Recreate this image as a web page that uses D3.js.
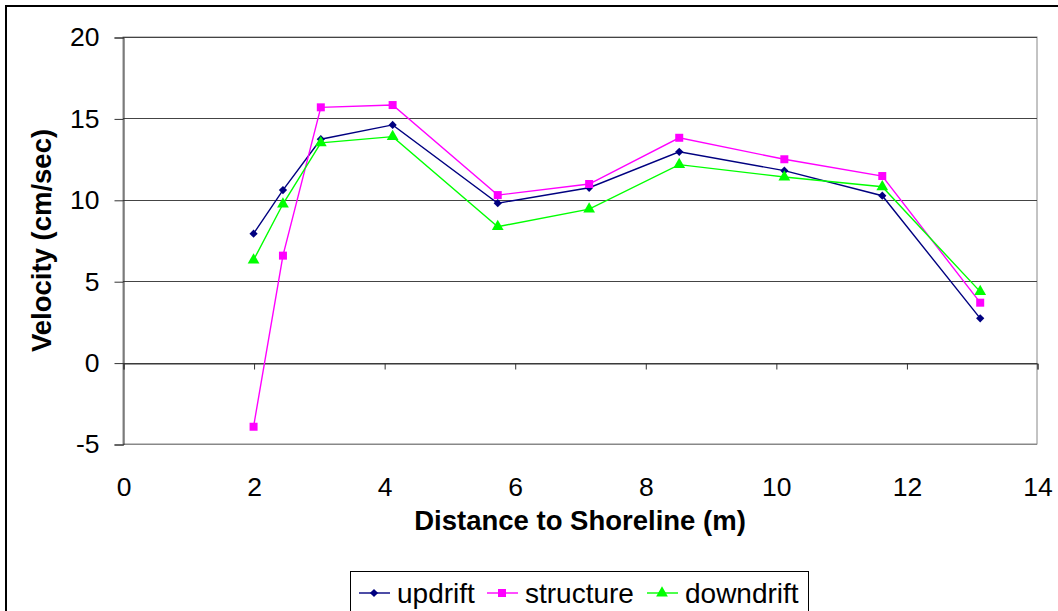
<!DOCTYPE html>
<meta charset="utf-8">
<head>
    <script type="text/javascript" src="https://cdn.jsdelivr.net/npm/d3@7/dist/d3.min.js"></script>
    <style>
        body { margin: 0; background: #fff; }
        text { font-family: "Liberation Sans", Arial, sans-serif; fill: #000; }
    </style>
</head>
<body>
<div id="chart"></div>
</body>
<script>
    // data
    var distance = [2.0, 2.45, 3.03, 4.13, 5.74, 7.14, 8.52, 10.13, 11.63, 13.13];
    var updrift = [7.92, 10.6, 13.72, 14.6, 9.79, 10.74, 12.95, 11.79, 10.25, 2.72];
    var structure = [-3.94, 6.57, 15.68, 15.82, 10.29, 10.97, 13.81, 12.49, 11.46, 3.68];
    var downdrift = [6.3, 9.74, 13.5, 13.88, 8.35, 9.43, 12.16, 11.4, 10.8, 4.36];
    var seriesNames = ["updrift", "structure", "downdrift"];
    var xTicks = [0, 2, 4, 6, 8, 10, 12, 14];
    var yTicks = [-5, 0, 5, 10, 15, 20];

    var width = 1058, height = 611;
    var plot = {left: 123, right: 1037, top: 37, bottom: 444};

    var svg = d3.select("#chart").append("svg")
        .attr("width", width)
        .attr("height", height);

    // outer frame (runs off the right and bottom edge)
    svg.append("rect")
        .attr("x", 6).attr("y", 6)
        .attr("width", 1100).attr("height", 700)
        .attr("fill", "none").attr("stroke", "#000").attr("stroke-width", 2);

    var x = d3.scaleLinear().domain([0, 14]).range([plot.left, plot.right]);
    var y = d3.scaleLinear().domain([-5, 20]).range([plot.bottom, plot.top]);

    // plot area border
    svg.append("rect")
        .attr("x", plot.left).attr("y", plot.top)
        .attr("width", plot.right - plot.left).attr("height", plot.bottom - plot.top)
        .attr("fill", "none").attr("stroke", "#888").attr("stroke-width", 1);

    // gridlines
    svg.append("g").selectAll("line")
        .data(yTicks)
        .join("line")
        .attr("x1", plot.left).attr("x2", plot.right)
        .attr("y1", d => Math.round(y(d)) + 0.5).attr("y2", d => Math.round(y(d)) + 0.5)
        .attr("stroke", d => d === -5 ? "#888" : "#444")
        .attr("stroke-width", 1);

    var fmt = d => String(d); // plain hyphen for negatives

    // y axis
    var yAxis = svg.append("g")
        .attr("transform", "translate(" + (plot.left + 0.5) + ",0.5)")
        .call(d3.axisLeft(y).tickValues(yTicks).tickSize(9).tickPadding(15).tickFormat(fmt));
    yAxis.select(".domain").attr("stroke", "#333");
    yAxis.selectAll(".tick line").attr("stroke", "#333");
    yAxis.selectAll("text").style("font-size", "26.5px").attr("fill", "#000");

    // x axis sits on the zero line, labels below the plot
    var xAxis = svg.append("g")
        .attr("transform", "translate(0.5," + (Math.round(y(0)) + 0.5) + ")")
        .call(d3.axisBottom(x).tickValues(xTicks).tickSize(6).tickFormat(fmt));
    xAxis.select(".domain").attr("stroke", "#333");
    xAxis.selectAll(".tick line").attr("stroke", "#333");
    xAxis.selectAll("text")
        .style("font-size", "26.5px")
        .attr("fill", "#000")
        .attr("y", 495 - Math.round(y(0)))
        .attr("dy", null);

    // axis titles
    svg.append("text")
        .attr("x", (plot.left + plot.right) / 2).attr("y", 530)
        .attr("text-anchor", "middle")
        .style("font-size", "27.5px").style("font-weight", "bold")
        .text("Distance to Shoreline (m)");
    svg.append("text")
        .attr("transform", "translate(51," + (plot.top + plot.bottom) / 2 + ") rotate(-90)")
        .attr("text-anchor", "middle")
        .style("font-size", "27.5px").style("font-weight", "bold")
        .text("Velocity (cm/sec)");

    var series = [
        {name: seriesNames[0], values: updrift, color: "#000080", symbol: d3.symbolSquare, size: 34, rot: 45},
        {name: seriesNames[1], values: structure, color: "#FF00FF", symbol: d3.symbolSquare, size: 64, rot: 0},
        {name: seriesNames[2], values: downdrift, color: "#00FF00", symbol: d3.symbolTriangle, size: 60, rot: 0}
    ];

    var line = d3.line()
        .x(d => x(d[0]))
        .y(d => y(d[1]));

    series.forEach(function (s) {
        var pts = distance.map((d, i) => [d, s.values[i]]);
        svg.append("path")
            .datum(pts)
            .attr("fill", "none")
            .attr("stroke", s.color)
            .attr("stroke-width", 1.4)
            .attr("d", line);
        svg.append("g").selectAll("path")
            .data(pts)
            .join("path")
            .attr("transform", d => "translate(" + x(d[0]) + "," + y(d[1]) + ") rotate(" + s.rot + ")")
            .attr("d", d3.symbol().type(s.symbol).size(s.size))
            .attr("fill", s.color);
    });

    // legend
    var legend = svg.append("g");
    legend.append("rect")
        .attr("x", 350.5).attr("y", 571.5)
        .attr("width", 458).attr("height", 60)
        .attr("fill", "#fff").attr("stroke", "#000").attr("stroke-width", 1);
    var legendX = [359, 487, 647];
    series.forEach(function (s, i) {
        var g = legend.append("g").attr("transform", "translate(" + legendX[i] + ",593)");
        g.append("line").attr("x1", 0).attr("x2", 31).attr("y1", 0).attr("y2", 0)
            .attr("stroke", s.color).attr("stroke-width", 1.4);
        g.append("path")
            .attr("transform", "translate(15,0) rotate(" + s.rot + ")")
            .attr("d", d3.symbol().type(s.symbol).size(s.size))
            .attr("fill", s.color);
        g.append("text")
            .attr("x", 38).attr("y", 10)
            .style("font-size", "28px")
            .text(s.name);
    });
</script>
</html>
